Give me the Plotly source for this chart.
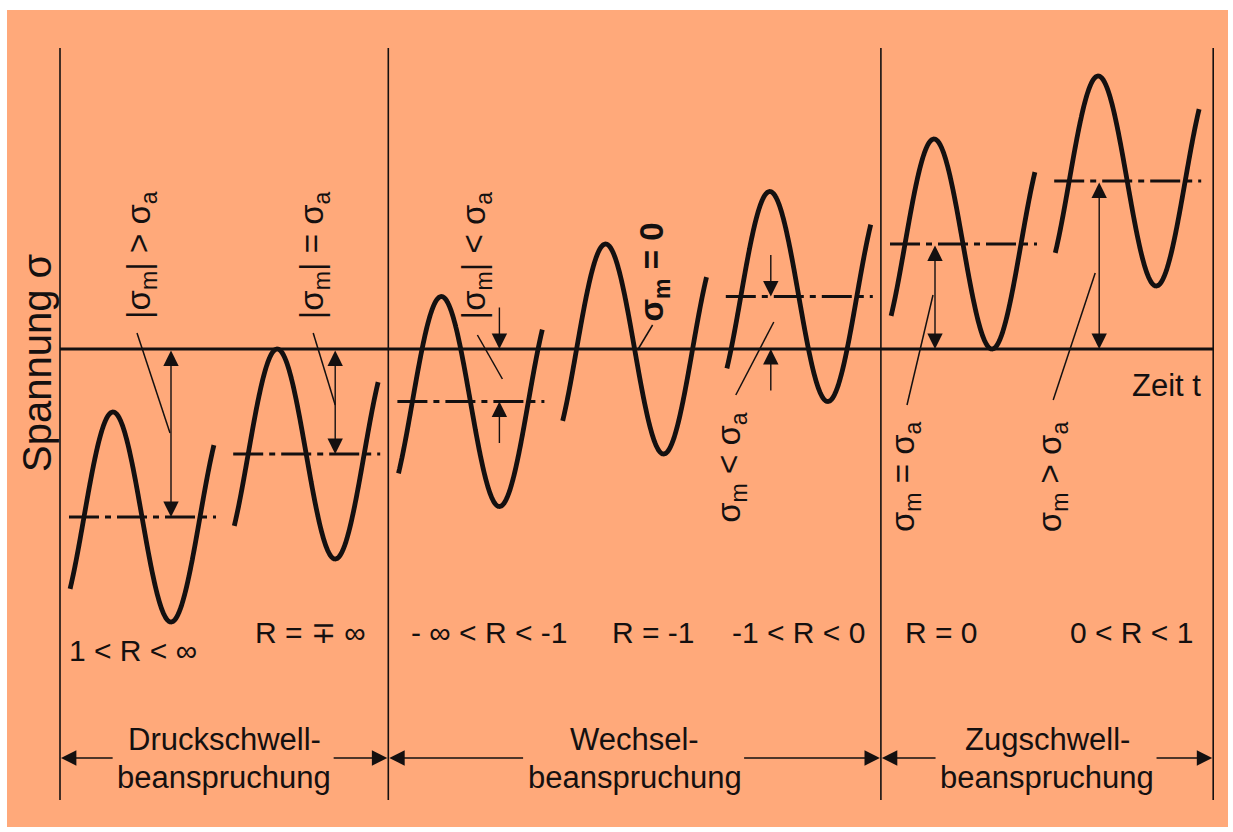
import numpy as np
import plotly.graph_objects as go

# ---------------- data ----------------
r_labels = ["1 < R < ∞", "R = ∓ ∞", "- ∞ < R < -1", "R = -1", "-1 < R < 0", "R = 0", "0 < R < 1"]
relation_labels = [
    "|σ<sub>m</sub>| > σ<sub>a</sub>",
    "|σ<sub>m</sub>| = σ<sub>a</sub>",
    "|σ<sub>m</sub>| < σ<sub>a</sub>",
    "<b>σ<sub>m</sub> = 0</b>",
    "σ<sub>m</sub> < σ<sub>a</sub>",
    "σ<sub>m</sub> = σ<sub>a</sub>",
    "σ<sub>m</sub> > σ<sub>a</sub>",
]
sigma_m = [-1.6, -1.0, -0.5, 0.0, 0.5, 1.0, 1.6]   # mean stress (in units of sigma_a)
sigma_a = [1.0, 1.0, 1.0, 1.0, 1.0, 1.0, 1.0]      # stress amplitude
regime_line1 = ["Druckschwell-", "Wechsel-", "Zugschwell-"]
regime_line2 = ["beanspruchung", "beanspruchung", "beanspruchung"]
regime_counts = [2, 3, 2]
y_title = "Spannung σ"
x_title = "Zeit t"

# ---------------- layout geometry ----------------
W, H = 1233, 832
Y0 = 349.0          # pixel row of sigma = 0
K = 105.0           # pixels per sigma unit
C0, DX = 142.0, 164.2
HALF = 58.0
INK = "#141010"
BG = "#FFA97A"
FONT = "Liberation Sans, Arial, sans-serif"


def sy(py):
    return (Y0 - py) / K


n = len(sigma_m)
centers = [C0 + i * DX for i in range(n)]
sep_x = [centers[0] - 82]
k = 0
for cnt in regime_counts[:-1]:
    k += cnt
    sep_x.append((centers[k - 1] + centers[k]) / 2)
sep_x.append(centers[-1] + 86)

fig = go.Figure()

# waves
phi = np.linspace(-0.24 * np.pi, 2.24 * np.pi, 300)
for c, m, a in zip(centers, sigma_m, sigma_a):
    fig.add_trace(go.Scatter(
        x=c + (phi - np.pi) / np.pi * HALF, y=m + a * np.sin(phi),
        mode="lines", line=dict(color=INK, width=4.8, shape="spline"),
        hoverinfo="skip", showlegend=False))

shapes = []
# background panel
shapes.append(dict(type="rect", xref="paper", yref="paper", x0=7 / W, x1=1228 / W,
                   y0=1 - 827 / H, y1=1 - 10 / H, fillcolor=BG, line=dict(width=0), layer="below"))
# separators
for sx in sep_x:
    shapes.append(dict(type="line", x0=sx, x1=sx, y0=sy(48), y1=sy(800),
                       line=dict(color=INK, width=1.6)))
# zero line
shapes.append(dict(type="line", x0=sep_x[0], x1=sep_x[-1], y0=0, y1=0,
                   line=dict(color=INK, width=3)))
# mean lines
for c, m in zip(centers, sigma_m):
    if m != 0:
        shapes.append(dict(type="line", x0=c - 73, x1=c + 74, y0=m, y1=m,
                           line=dict(color=INK, width=3, dash="30px,6px,6px,6px")))

# leader lines (offsets relative to wave centre, pixel rows)
leaders = [(-5, 333, 28, 433), (7, 333, 29, 405), (7, 335, 32, 379), (18, 325, 3, 350),
           (-25, 322, -63, 395), (-30, 295, -56, 405), (-32, 273, -74, 400)]
for c, (dx0, py0, dx1, py1) in zip(centers, leaders):
    shapes.append(dict(type="line", x0=c + dx0, x1=c + dx1, y0=sy(py0), y1=sy(py1),
                       line=dict(color=INK, width=1.5)))

annotations = []


def arrow(x, y, ax, ay, side="end"):
    annotations.append(dict(x=x, y=y, ax=ax, ay=ay, xref="x", yref="y", axref="x", ayref="y",
                            text="", showarrow=True, arrowhead=2, startarrowhead=2,
                            arrowsize=2.2, startarrowsize=2.2, arrowwidth=1.4,
                            arrowcolor=INK, arrowside=side, standoff=0, startstandoff=0))


# sigma_m arrows
for c, m, a in zip(centers, sigma_m, sigma_a):
    if m == 0:
        continue
    xa = c + 29 if m < 0 else c - 28
    hi, lo = max(0, m), min(0, m)
    if abs(m) >= a:
        arrow(xa, lo, xa, hi, side="end+start")
    else:
        arrow(xa, hi, xa, hi + 0.41)
        arrow(xa, lo, xa, lo - 0.41)

# relation labels (rotated)
rel_pos = [(-1, 255), (8, 255), (6, 255), (19, 272), (-68, 467), (-58, 477), (-75, 477)]
for c, txt, (dx, py) in zip(centers, relation_labels, rel_pos):
    annotations.append(dict(x=c + dx, y=sy(py), text=txt, textangle=-90, showarrow=False,
                            xref="x", yref="y", font=dict(size=33, color=INK, family=FONT)))

# R labels
r_rows = [650, 632, 632, 632, 632, 632, 632]
r_dx = [-9, 4, 19, 19, 0, -22, 4]
for c, txt, py, dx in zip(centers, r_labels, r_rows, r_dx):
    annotations.append(dict(x=c + dx, y=sy(py), text=txt, showarrow=False, xref="x", yref="y",
                            font=dict(size=30, color=INK, family=FONT)))

# regime labels + arrows
ROW_ARROW = 758
for i in range(len(regime_counts)):
    xl, xr = sep_x[i], sep_x[i + 1]
    xc = (xl + xr) / 2
    annotations.append(dict(x=xc, y=sy(739), text=regime_line1[i], showarrow=False,
                            xref="x", yref="y", font=dict(size=31, color=INK, family=FONT)))
    annotations.append(dict(x=xc, y=sy(777), text=regime_line2[i], showarrow=False,
                            xref="x", yref="y", font=dict(size=31, color=INK, family=FONT)))
    arrow(xl + 1, sy(ROW_ARROW), xc - 110, sy(ROW_ARROW))
    arrow(xr - 1, sy(ROW_ARROW), xc + 108, sy(ROW_ARROW))

# axis titles
annotations.append(dict(x=37, y=sy(363), text=y_title, textangle=-90, showarrow=False,
                        xref="x", yref="y", font=dict(size=40, color=INK, family=FONT)))
annotations.append(dict(x=1166, y=sy(385), text=x_title, showarrow=False,
                        xref="x", yref="y", font=dict(size=31, color=INK, family=FONT)))

fig.update_layout(
    width=W, height=H, margin=dict(l=0, r=0, t=0, b=0),
    paper_bgcolor="white", plot_bgcolor="rgba(0,0,0,0)",
    xaxis=dict(range=[0, W], visible=False, fixedrange=True),
    yaxis=dict(range=[sy(H), sy(0)], visible=False, fixedrange=True),
    shapes=shapes, annotations=annotations, showlegend=False,
)

fig.write_html("out.html", config={"displayModeBar": False},
               post_script="document.body.style.margin='0';")
